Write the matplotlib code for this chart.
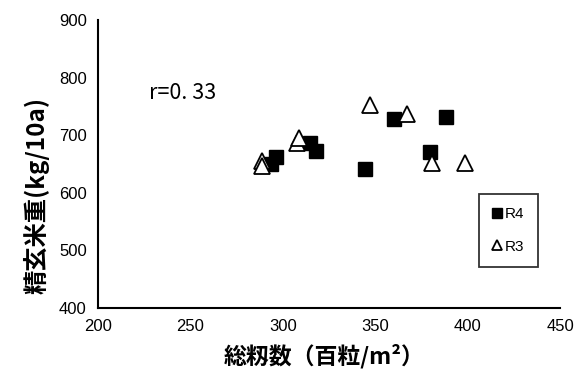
import matplotlib
matplotlib.use("Agg")
import matplotlib.pyplot as plt

# Data
r4_x = [293.4, 296.1, 314.5, 317.7, 344.2, 360.4, 379.8, 388.4]
r4_y = [650, 662, 686, 673, 641, 728, 671, 732]
r3_x = [288.5, 289.0, 307.5, 308.5, 347.4, 367.4, 380.9, 398.7]
r3_y = [655, 646, 687, 695, 752, 736, 651, 652]

x_ticks = [200, 250, 300, 350, 400, 450]
y_ticks = [400, 500, 600, 700, 800, 900]
x_label = "総籾数（百粒/m²）"
y_label = "精玄米重(kg/10a)"
r_text = "r=0. 33"

jp = ["Noto Sans CJK JP", "DejaVu Sans"]
num = ["Liberation Sans Narrow", "Liberation Sans", "DejaVu Sans"]

fig = plt.figure(figsize=(5.75, 3.74), dpi=100)
ax = fig.add_axes([0.1704, 0.1765, 0.8036, 0.77])

ax.plot(r4_x, r4_y, linestyle="none", marker="s", markersize=10.5,
        markerfacecolor="black", markeredgecolor="black", label="R4", zorder=3)
ax.plot(r3_x, r3_y, linestyle="none", marker="^", markersize=11,
        markerfacecolor="white", markeredgecolor="black", markeredgewidth=1.3,
        label="R3", zorder=3)

ax.set_xlim(200, 450)
ax.set_ylim(400, 900)
ax.set_xticks(x_ticks)
ax.set_yticks(y_ticks)
ax.set_xticklabels([str(t) for t in x_ticks], family=num, fontsize=12)
ax.set_yticklabels([str(t) for t in y_ticks], family=num, fontsize=12)
ax.tick_params(length=0, pad=8)
for s in ["top", "right"]:
    ax.spines[s].set_visible(False)
for s in ["left", "bottom"]:
    ax.spines[s].set_linewidth(1.5)
    ax.spines[s].set_color("black")

ax.set_xlabel(x_label, family=jp, fontsize=16.5, fontweight="bold")
ax.xaxis.set_label_coords(0.49, -0.125)
ax.set_ylabel(y_label, family=jp, fontsize=17.5, fontweight="bold")
ax.yaxis.set_label_coords(-0.105, 0.39)

ax.text(0.11, 0.745, r_text, transform=ax.transAxes, family=jp, fontsize=15.5,
        ha="left", va="center")

leg = ax.legend(loc="upper left", bbox_to_anchor=(0.808, 0.424),
                prop={"family": num, "size": 11}, frameon=True, fancybox=False,
                edgecolor="black", handlelength=0.6, handletextpad=0.2,
                labelspacing=1.2, borderpad=0.9, markerscale=0.7)
leg.get_frame().set_linewidth(1.3)

fig.savefig("out.png", dpi=100)
